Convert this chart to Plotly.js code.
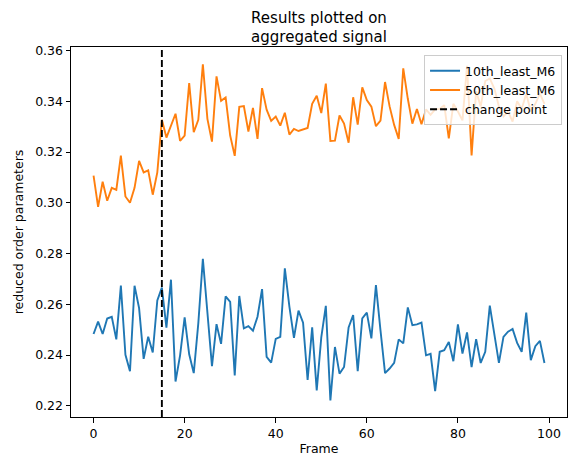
<!DOCTYPE html>
<html>
<head>
<meta charset="utf-8">
<script src="https://cdn.plot.ly/plotly-3.0.1.min.js"></script>
<style>html,body{margin:0;padding:0;background:#fff;}#chart{width:576px;height:470px;}</style>
</head>
<body>
<div id="chart"></div>
<script>
const frames = Array.from({length: 100}, (_, i) => i);
const changePoint = 15;
const seriesNames = ["10th_least_M6", "50th_least_M6", "change point"];
const least10 = [
  0.2483, 0.2532, 0.2483, 0.2544, 0.2551, 0.2462, 0.2674, 0.2401, 0.2336, 0.2673,
  0.2585, 0.2385, 0.2472, 0.2410, 0.2615, 0.2666, 0.2508, 0.2697, 0.2296, 0.2399,
  0.2549, 0.2403, 0.2329, 0.2525, 0.2779, 0.2571, 0.2356, 0.2522, 0.2444, 0.2631,
  0.2610, 0.2320, 0.2633, 0.2505, 0.2514, 0.2496, 0.2551, 0.2660, 0.2393, 0.2370,
  0.2464, 0.2472, 0.2742, 0.2591, 0.2468, 0.2575, 0.2528, 0.2302, 0.2509, 0.2261,
  0.2470, 0.2594, 0.2221, 0.2432, 0.2327, 0.2353, 0.2509, 0.2558, 0.2337, 0.2545,
  0.2567, 0.2466, 0.2676, 0.2497, 0.2329, 0.2347, 0.2369, 0.2462, 0.2446, 0.2588,
  0.2518, 0.2521, 0.2528, 0.2399, 0.2405, 0.2258, 0.2413, 0.2419, 0.2452, 0.2376,
  0.2521, 0.2406, 0.2489, 0.2353, 0.2463, 0.2369, 0.2413, 0.2595, 0.2485, 0.2369,
  0.2472, 0.2492, 0.2503, 0.2448, 0.2413, 0.2567, 0.2380, 0.2435, 0.2456, 0.2369
];
const least50 = [
  0.3107, 0.2984, 0.3083, 0.3008, 0.3059, 0.3051, 0.3186, 0.3025, 0.3000, 0.3059,
  0.3165, 0.3120, 0.3128, 0.3032, 0.3120, 0.3327, 0.3257, 0.3302, 0.3351, 0.3244,
  0.3265, 0.3472, 0.3278, 0.3327, 0.3546, 0.3331, 0.3241, 0.3498, 0.3402, 0.3415,
  0.3265, 0.3185, 0.3378, 0.3381, 0.3281, 0.3374, 0.3252, 0.3452, 0.3367, 0.3323,
  0.3340, 0.3304, 0.3355, 0.3269, 0.3291, 0.3283, 0.3290, 0.3295, 0.3390, 0.3422,
  0.3354, 0.3470, 0.3244, 0.3245, 0.3344, 0.3312, 0.3237, 0.3416, 0.3308, 0.3455,
  0.3405, 0.3379, 0.3302, 0.3324, 0.3476, 0.3380, 0.3307, 0.3252, 0.3530, 0.3410,
  0.3312, 0.3370, 0.3310, 0.3368, 0.3347, 0.3368, 0.3370, 0.3385, 0.3254, 0.3390,
  0.3360, 0.3325, 0.3540, 0.3187, 0.3440, 0.3380, 0.3480, 0.3490, 0.3450, 0.3380,
  0.3340, 0.3360, 0.3320, 0.3400, 0.3370, 0.3430, 0.3360, 0.3390, 0.3430, 0.3390
];
const xTicks = [0, 20, 40, 60, 80, 100];
const yTicks = [0.22, 0.24, 0.26, 0.28, 0.30, 0.32, 0.34, 0.36];

const FONT = "DejaVu Sans, sans-serif";
const traces = [
  {x: frames, y: least10, type: "scatter", mode: "lines", name: seriesNames[0],
   line: {color: "#1f77b4", width: 1.9}},
  {x: frames, y: least50, type: "scatter", mode: "lines", name: seriesNames[1],
   line: {color: "#ff7f0e", width: 1.9}},
  // legend-only entry for the vertical change-point line (drawn as a shape below)
  {x: [null], y: [null], type: "scatter", mode: "lines", name: seriesNames[2],
   line: {color: "#000", width: 1.9, dash: "7px,3px"}}
];
const axisCommon = {
  showgrid: false, zeroline: false, showline: true, mirror: true,
  linecolor: "#000", linewidth: 1, ticks: "outside", ticklen: 4.5, tickwidth: 1,
  tickcolor: "#000", tickfont: {family: FONT, size: 12.5, color: "#000"}
};
const layout = {
  width: 576, height: 470,
  margin: {l: 71, r: 9, t: 47, b: 53},
  paper_bgcolor: "#fff", plot_bgcolor: "#fff",
  font: {family: FONT, color: "#000"},
  title: {text: "Results plotted on<br>aggregated signal", font: {family: FONT, size: 15, color: "#000"},
          x: (71 + 567) / 2 / 576, xref: "container", xanchor: "center",
          y: 0.952, yref: "container", yanchor: "top"},
  xaxis: Object.assign({}, axisCommon, {range: [-4.95, 103.95], tickvals: xTicks,
          title: {text: "Frame", font: {family: FONT, size: 12.5, color: "#000"}, standoff: 4}}),
  yaxis: Object.assign({}, axisCommon, {range: [0.2156, 0.3614], tickvals: yTicks, tickformat: ".2f",
          title: {text: "reduced order parameters", font: {family: FONT, size: 12.5, color: "#000"}, standoff: 8}}),
  shapes: [{type: "line", xref: "x", yref: "paper", x0: changePoint, x1: changePoint, y0: 0, y1: 1,
            line: {color: "#000", width: 1.9, dash: "7px,3px"}}],
  legend: {x: 0.99, y: 0.978, xanchor: "right", yanchor: "top",
           bgcolor: "rgba(255,255,255,0.8)", bordercolor: "#cccccc", borderwidth: 1,
           font: {family: FONT, size: 12.5, color: "#000"}, tracegroupgap: 0}
};
Plotly.newPlot("chart", traces, layout, {displayModeBar: false, staticPlot: true});
</script>
</body>
</html>
